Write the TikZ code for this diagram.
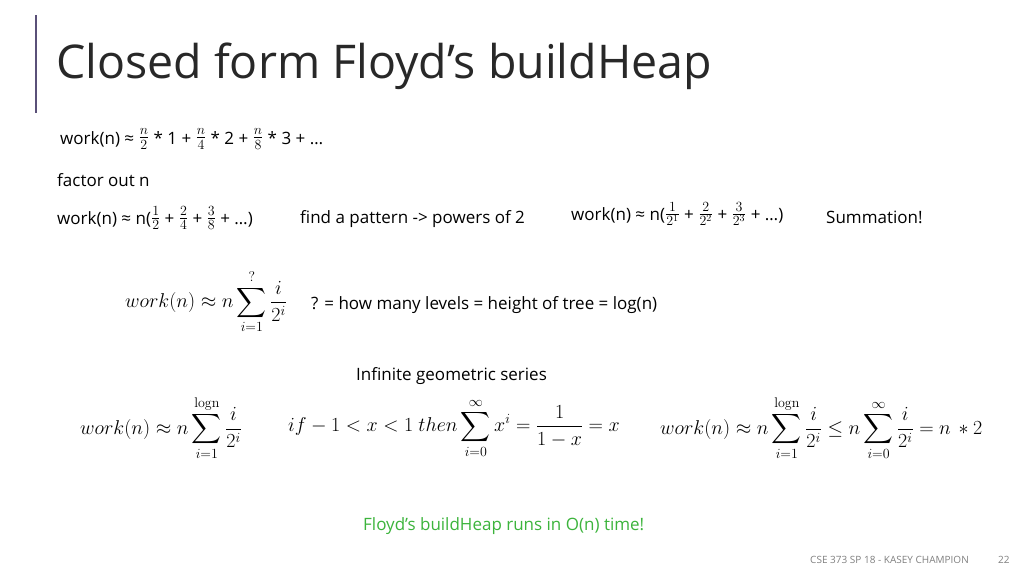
\RequirePackage{fix-cm}
\documentclass[tikz,border=0pt]{standalone}
\usepackage{amsmath}
\usepackage[no-math]{fontspec}
\setmainfont{Open Sans}
\newcommand{\fr}[2]{\raisebox{0.2ex}{\fontsize{20}{20}\selectfont$\frac{#1}{#2}$}}
\begin{document}
\begin{tikzpicture}[x=1pt,y=-1pt,
  txt/.style={anchor=base west,inner sep=0pt,font=\fontsize{17}{19}\selectfont},
  mth/.style={anchor=west,inner sep=0pt,font=\fontsize{17}{19}\selectfont},
  big/.style={anchor=west,inner sep=0pt,font=\fontsize{20}{22}\selectfont}]
\useasboundingbox (0,0) rectangle (1024,576);
\fill[white] (0,0) rectangle (1024,576);
\draw[line width=1.5pt,color={rgb,255:red,90;green,80;blue,120}] (36,15) -- (36,113);
\node[txt,font=\fontsize{46.5}{50}\selectfont,color={rgb,255:red,40;green,40;blue,40}] (title) at (56,78) {Closed form Floyd’s buildHeap};
\node[mth] (l1) at (60,139) {work(n) ≈ \fr{n}{2} * 1 + \fr{n}{4} * 2 + \fr{n}{8} * 3 + …};
\node[txt] (l2) at (57,186) {factor out n};
\node[mth] (l3) at (57,218) {work(n) ≈ n(\fr{1}{2} + \fr{2}{4} + \fr{3}{8} + …)};
\node[txt] (l4) at (300,223) {find a pattern -> powers of 2};
\node[mth] (l5) at (571,214) {work(n) ≈ n(\fr{1}{2^1} + \fr{2}{2^2} + \fr{3}{2^3} + …)};
\node[txt] (l6) at (826,223) {Summation!};
\node[big] (m1) at (125,302) {$\displaystyle work(n) \approx n\sum_{i=1}^{?}\frac{i}{2^i}$};
\node[txt] (l7) at (311,309) {? = how many levels = height of tree = log(n)};
\node[txt] (l8) at (356,380) {Infinite geometric series};
\node[big] (m2) at (80,428) {$\displaystyle work(n) \approx n\sum_{i=1}^{\mathrm{logn}}\frac{i}{2^i}$};
\node[big] (m3) at (288,428) {$\displaystyle if -1 < x < 1\ then \sum_{i=0}^{\infty} x^i = \frac{1}{1-x} = x$};
\node[big] (m4) at (660,428) {$\displaystyle work(n) \approx n\sum_{i=1}^{\mathrm{logn}}\frac{i}{2^i} \le n\sum_{i=0}^{\infty}\frac{i}{2^i} = n\, * 2$};
\node[txt,color={rgb,255:red,60;green,180;blue,60}] (l9) at (363,530) {Floyd’s buildHeap runs in O(n) time!};
\node[txt,font=\fontsize{10}{11}\selectfont,color=gray] (f1) at (810,563) {CSE 373 SP 18 - KASEY CHAMPION};
\node[txt,font=\fontsize{10}{11}\selectfont,color=gray] (f2) at (998,563) {22};
\end{tikzpicture}
\end{document}
